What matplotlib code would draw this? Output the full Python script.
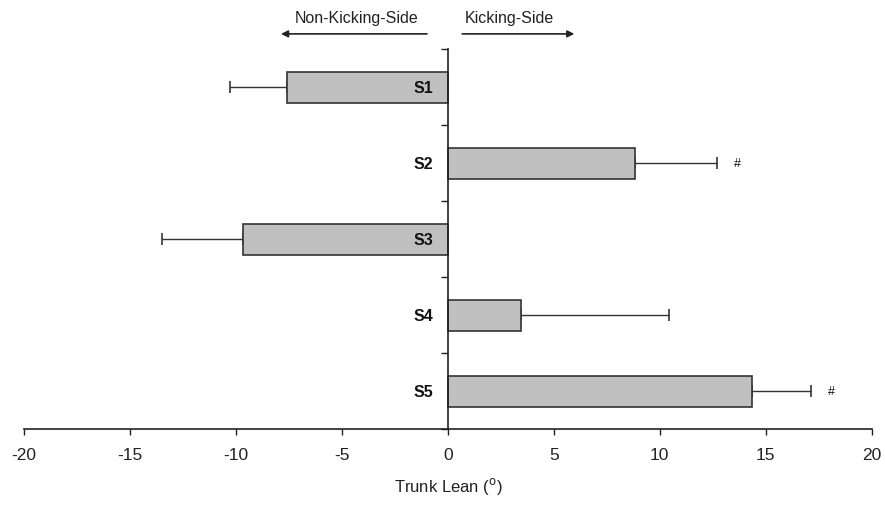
import matplotlib
matplotlib.use("Agg")
import matplotlib.pyplot as plt
from matplotlib import font_manager

plt.rcParams['font.family'] = ['Liberation Sans', 'DejaVu Sans']

subjects = ["S1", "S2", "S3", "S4", "S5"]
trunk_lean = [-7.6, 8.85, -9.66, 3.44, 14.33]
errors = [2.67, 3.85, 3.82, 7.0, 2.79]
significant = [False, True, False, False, True]
xticks = [-20, -15, -10, -5, 0, 5, 10, 15, 20]

names = {f.name for f in font_manager.fontManager.ttflist}
tick_family = 'Liberation Sans Narrow' if 'Liberation Sans Narrow' in names else 'Liberation Sans'

fig = plt.figure(figsize=(8.85, 5.06), dpi=100)
ax = fig.add_axes([0.027, 0.150, 0.958, 0.751])

pos = list(range(len(subjects)))
ax.barh(pos, trunk_lean, height=0.41, color='#c0c0c0', edgecolor='#333333',
        linewidth=1.2, zorder=2)

for i, (v, e) in enumerate(zip(trunk_lean, errors)):
    lower = [e] if v < 0 else [0]
    upper = [e] if v > 0 else [0]
    ax.errorbar(v, i, xerr=[lower, upper], fmt='none', ecolor='#333333',
                elinewidth=1.0, capsize=4, capthick=1.2, zorder=1)
    ax.text(-0.7, i, subjects[i], ha='right', va='center', fontsize=11.5,
            fontweight='bold', color='#111111', zorder=3)
    if significant[i]:
        ax.text(v + e + 0.8, i, '#', ha='left', va='center', fontsize=9,
                color='#111111')

ax.set_xlim(-20, 20)
ax.set_ylim(4.5, -0.5)
ax.set_xticks(xticks)
ax.set_xticklabels([str(t) for t in xticks], fontsize=12.5, color='#222222',
                   family=tick_family)
ax.set_yticks([-0.5, 0.5, 1.5, 2.5, 3.5, 4.5])
ax.set_yticklabels([])
ax.tick_params(axis='y', direction='out', length=5, width=1.0, color='#222222')
ax.tick_params(axis='x', direction='out', length=4, width=1.0, color='#222222', pad=9)

ax.spines['top'].set_visible(False)
ax.spines['right'].set_visible(False)
ax.spines['left'].set_position(('data', 0))
ax.spines['left'].set_color('#222222')
ax.spines['bottom'].set_color('#222222')
ax.spines['left'].set_linewidth(1.2)
ax.spines['bottom'].set_linewidth(1.2)

ax.set_xlabel('Trunk Lean ($^{\\mathrm{o}}$)', fontsize=12, color='#222222', labelpad=9.5)

# direction annotations above the plot
ax.annotate('', xy=(-8.0, -0.70), xytext=(-0.85, -0.70), xycoords='data',
            arrowprops=dict(arrowstyle='-|>', color='#222222', lw=1.2,
                            mutation_scale=10), annotation_clip=False)
ax.annotate('', xy=(6.1, -0.70), xytext=(0.55, -0.70), xycoords='data',
            arrowprops=dict(arrowstyle='-|>', color='#222222', lw=1.2,
                            mutation_scale=10), annotation_clip=False)
ax.text(-4.3, -0.92, 'Non-Kicking-Side', ha='center', va='center', fontsize=11.5,
        color='#222222', clip_on=False)
ax.text(2.9, -0.92, 'Kicking-Side', ha='center', va='center', fontsize=11.5,
        color='#222222', clip_on=False)

fig.savefig('out.png', dpi=100)
